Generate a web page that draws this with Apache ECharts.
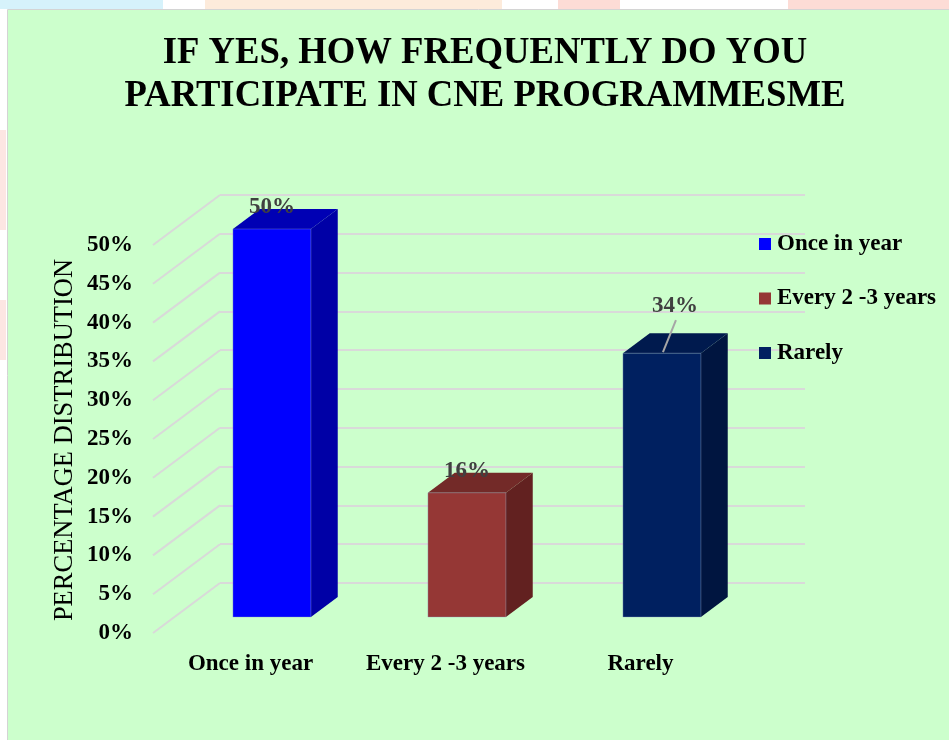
<!DOCTYPE html>
<html><head><meta charset="utf-8">
<script src="https://cdn.jsdelivr.net/npm/echarts@6/dist/echarts.min.js"></script>
<style>html,body{margin:0;padding:0;background:#fff}#c{width:949px;height:740px}</style>
</head><body><div id="c"></div>
<script>
// ---- data ----
const categories = ['Once in year', 'Every 2 -3 years', 'Rarely'];
const values = [50, 16, 34];
const yTicks = [0, 5, 10, 15, 20, 25, 30, 35, 40, 45, 50];
const titleLines = ['IF YES, HOW FREQUENTLY DO YOU', 'PARTICIPATE IN CNE PROGRAMMESME'];
const yAxisTitle = 'PERCENTAGE DISTRIBUTION';

// ---- style ----
const FONT = "'Liberation Serif','Times New Roman',Times,serif";
const faceColors = [
  {front: '#0000FF', top: '#0000B4', side: '#0000A6'},
  {front: '#953735', top: '#732A28', side: '#622120'},
  {front: '#002060', top: '#001A4E', side: '#001540'}
];
const DEPTH_X = 67, DEPTH_Y = -50;   // front wall -> back wall
const BAR_FRONT = 0.32, BAR_DEPTH = 0.4, BAR_W = 0.4;
const LABEL_NUDGE = [[0, 0], [0, 0], [13, -25]];
const LEADER = [false, false, true];

function barRender(ci) {
  return function (params, api) {
    const cat = api.value(0), v = api.value(1);
    const base = api.coord([cat, 0]);
    const top = api.coord([cat, v]);
    const w = api.size([1, 0])[0] * BAR_W;
    const ox = DEPTH_X * BAR_FRONT, oy = DEPTH_Y * BAR_FRONT;
    const x0 = base[0] + ox - w / 2, x1 = x0 + w;
    const yb = base[1] + oy, yt = top[1] + oy;
    const dx = DEPTH_X * BAR_DEPTH, dy = DEPTH_Y * BAR_DEPTH;
    const c = faceColors[ci];
    const cx = x0 + w / 2;
    const lx = cx + LABEL_NUDGE[ci][0];
    const ly = yt + dy - 2 + LABEL_NUDGE[ci][1];
    const children = [
      {type: 'polygon', shape: {points: [[x1, yt], [x1 + dx, yt + dy], [x1 + dx, yb + dy], [x1, yb]]},
       style: {fill: c.side}},
      {type: 'polygon', shape: {points: [[x0, yt], [x1, yt], [x1 + dx, yt + dy], [x0 + dx, yt + dy]]},
       style: {fill: c.top}},
      {type: 'rect', shape: {x: x0, y: yt, width: w, height: yb - yt},
       style: {fill: c.front, stroke: 'rgba(140,160,200,0.6)', lineWidth: 0.6}}
    ];
    if (LEADER[ci]) {
      children.push({type: 'line', shape: {x1: lx + 1, y1: ly + 14, x2: cx + 1, y2: yt - 1},
        style: {stroke: '#A6A6A6', lineWidth: 2}});
    }
    children.push({type: 'text', style: {
      x: lx, y: ly, text: v + '%', align: 'center', verticalAlign: 'middle',
      font: 'bold 23px ' + FONT, fill: '#404040'}});
    return {type: 'group', children: children};
  };
}

function diagRender(params, api) {
  const p = api.coord([0, api.value(1)]);
  const x = params.coordSys.x;
  return {type: 'line', shape: {x1: x, y1: p[1], x2: x - DEPTH_X, y2: p[1] - DEPTH_Y},
    style: {stroke: '#D9D9D9', lineWidth: 2}};
}

const chart = echarts.init(document.getElementById('c'), null, {renderer: 'canvas'});
const barSeries = categories.map((name, i) => ({
  name: name, type: 'custom', xAxisIndex: 1, yAxisIndex: 1,
  itemStyle: {color: faceColors[i].front},
  renderItem: barRender(i), data: [[i, values[i]]], z: 5, clip: false
}));

chart.setOption({
  backgroundColor: '#CCFFCC',
  animation: false,
  graphic: [
    {type: 'rect', shape: {x: 0, y: 0, width: 949, height: 10}, style: {fill: '#FFFFFF'}, z: -10},
    {type: 'rect', shape: {x: 0, y: 0, width: 8, height: 740}, style: {fill: '#FFFFFF'}, z: -10},
    {type: 'rect', shape: {x: 0, y: 0, width: 163, height: 9}, style: {fill: '#D6F2FB'}, z: -9},
    {type: 'rect', shape: {x: 205, y: 0, width: 297, height: 9}, style: {fill: '#FDEBDB'}, z: -9},
    {type: 'rect', shape: {x: 558, y: 0, width: 62, height: 9}, style: {fill: '#FDDCD6'}, z: -9},
    {type: 'rect', shape: {x: 788, y: 0, width: 161, height: 9}, style: {fill: '#FDDCD6'}, z: -9},
    {type: 'rect', shape: {x: 0, y: 130, width: 6, height: 100}, style: {fill: '#FDE6E3'}, z: -9},
    {type: 'rect', shape: {x: 0, y: 300, width: 6, height: 60}, style: {fill: '#FDE6E3'}, z: -9},
    {type: 'rect', shape: {x: 7.5, y: 9.5, width: 945, height: 735}, style: {fill: 'none', stroke: '#D4D4D4', lineWidth: 1}, z: -8},
    {type: 'text', x: 485, y: 53, scaleX: 0.965, style: {text: titleLines[0], align: 'center', verticalAlign: 'middle',
      font: 'bold 38px ' + FONT, fill: '#000'}},
    {type: 'text', x: 485, y: 96, scaleX: 0.965, style: {text: titleLines[1], align: 'center', verticalAlign: 'middle',
      font: 'bold 38px ' + FONT, fill: '#000'}},
    {type: 'text', x: 65, y: 440, rotation: Math.PI / 2, style: {text: yAxisTitle, align: 'center',
      verticalAlign: 'middle', font: '26.5px ' + FONT, fill: '#000'}}
  ],
  legend: {
    orient: 'vertical', left: 754, top: 227, itemWidth: 12, itemHeight: 12, icon: 'rect',
    itemGap: 30.5, selectedMode: false, data: categories,
    textStyle: {fontFamily: FONT, fontWeight: 'bold', fontSize: 23, color: '#000', lineHeight: 24, padding: [0, 0, 0, 1]}
  },
  grid: [
    {left: 220, right: 144, top: 195, bottom: 157},
    {left: 153, right: 211, top: 245, bottom: 107}
  ],
  xAxis: [
    {gridIndex: 0, type: 'category', data: categories, show: false},
    {gridIndex: 1, type: 'category', data: categories,
     axisLine: {show: false}, axisTick: {show: false},
     axisLabel: {interval: 0, margin: 20, fontFamily: FONT, fontWeight: 'bold', fontSize: 23, color: '#000'}}
  ],
  yAxis: [
    {gridIndex: 0, type: 'value', min: 0, max: 50, interval: 5,
     axisLine: {show: false}, axisTick: {show: false}, axisLabel: {show: false},
     splitLine: {show: true, lineStyle: {color: '#D9D9D9', width: 2}}},
    {gridIndex: 1, type: 'value', min: 0, max: 50, interval: 5,
     axisLine: {show: false}, axisTick: {show: false}, splitLine: {show: false},
     axisLabel: {margin: 20, formatter: '{value}%', fontFamily: FONT, fontWeight: 'bold', fontSize: 23, color: '#000'}}
  ],
  series: [
    {name: 'grid-diag', type: 'custom', xAxisIndex: 0, yAxisIndex: 0, renderItem: diagRender,
     data: yTicks.map(v => [0, v]), z: 1, clip: false, silent: true}
  ].concat(barSeries)
});
</script>
</body></html>
